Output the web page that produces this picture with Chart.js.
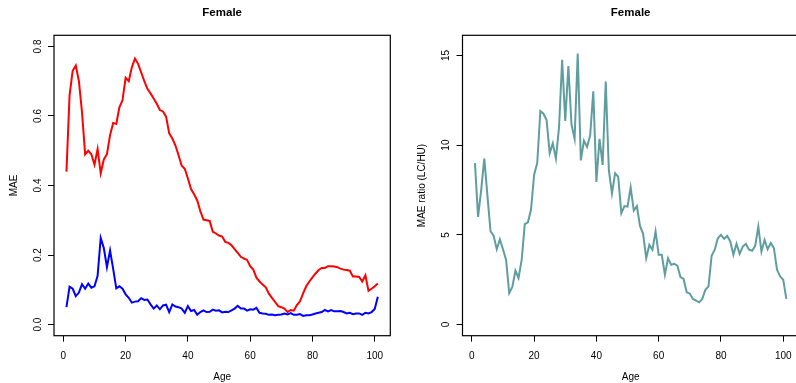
<!DOCTYPE html>
<html>
<head>
<meta charset="utf-8">
<script src="https://cdn.jsdelivr.net/npm/chart.js@4.4.1/dist/chart.umd.min.js"></script>
<style>
html,body{margin:0;padding:0;background:#fff;overflow:hidden;width:796px;height:383px;}
#c1{position:absolute;left:0;top:0;}
#c2{position:absolute;left:398px;top:0;}
</style>
</head>
<body>
<canvas id="c1" width="398" height="383"></canvas>
<canvas id="c2" width="404" height="383"></canvas>
<script>
// ---- data ----
const ages = Array.from({length: 101}, (_, i) => i + 1);
const maeLC = [0.44,0.66,0.73,0.745,0.70,0.61,0.49,0.50,0.49,0.46,
  0.505,0.435,0.475,0.49,0.545,0.58,0.577,0.625,0.645,0.71,
  0.70,0.74,0.765,0.75,0.725,0.70,0.678,0.665,0.65,0.635,
  0.617,0.613,0.598,0.55,0.535,0.515,0.487,0.457,0.448,0.42,
  0.39,0.375,0.357,0.326,0.302,0.30,0.298,0.267,0.262,0.256,
  0.253,0.238,0.235,0.228,0.217,0.206,0.195,0.19,0.186,0.168,
  0.158,0.135,0.124,0.115,0.107,0.089,0.077,0.065,0.053,0.05,
  0.046,0.036,0.042,0.04,0.056,0.067,0.09,0.11,0.124,0.136,
  0.147,0.157,0.163,0.163,0.168,0.168,0.167,0.165,0.161,0.158,
  0.157,0.155,0.138,0.138,0.137,0.124,0.142,0.097,0.103,0.11,0.118];
const maeHU = [0.05,0.109,0.103,0.082,0.092,0.116,0.103,0.118,0.106,0.11,
  0.14,0.249,0.22,0.165,0.213,0.16,0.104,0.11,0.103,0.087,
  0.077,0.063,0.066,0.067,0.076,0.071,0.072,0.058,0.046,0.055,
  0.044,0.055,0.057,0.036,0.058,0.052,0.05,0.046,0.034,0.053,
  0.039,0.042,0.028,0.036,0.041,0.036,0.037,0.043,0.04,0.041,
  0.035,0.037,0.036,0.041,0.046,0.054,0.046,0.046,0.04,0.044,
  0.043,0.048,0.034,0.032,0.031,0.028,0.029,0.027,0.028,0.029,
  0.032,0.029,0.033,0.028,0.028,0.03,0.025,0.027,0.027,0.029,
  0.032,0.034,0.036,0.042,0.038,0.042,0.038,0.038,0.039,0.036,
  0.032,0.034,0.03,0.032,0.032,0.028,0.034,0.032,0.036,0.045,0.08];
const maeRatio = [9.0,6.0,7.5,9.25,7.2,5.2,4.95,4.2,4.75,4.2,
  3.6,1.75,2.1,3.0,2.6,3.6,5.6,5.7,6.4,8.35,
  9.0,11.9,11.75,11.4,9.55,10.1,9.25,11.0,14.75,11.35,
  14.4,11.15,10.35,15.1,9.15,10.25,9.9,10.55,13.0,7.95,
  10.35,8.9,13.55,8.6,7.3,8.43,8.24,6.2,6.6,6.57,
  7.65,6.35,6.6,5.5,5.06,3.7,4.44,4.17,5.19,3.89,
  3.89,2.78,3.7,3.33,3.39,3.28,2.65,2.54,1.8,1.72,
  1.43,1.33,1.24,1.43,1.94,2.13,3.83,4.17,4.81,5.0,
  4.78,4.94,4.63,3.89,4.5,3.94,4.35,4.5,4.17,4.11,
  4.39,5.46,4.07,4.72,4.2,4.54,4.26,3.06,2.69,2.5,1.43];
const xTicks = [0, 20, 40, 60, 80, 100];
const yTicksMAE = [0, 0.2, 0.4, 0.6, 0.8];
const yTicksRatio = [0, 5, 10, 15];
const titleText = 'Female';

// ---- styling / helpers ----
const FONT = '"Liberation Sans", Arial, Helvetica, sans-serif';
const pts = (ys) => ys.map((y, i) => ({x: ages[i], y}));

const framePlugin = {
  id: 'frame',
  afterDraw(chart) {
    const {ctx, chartArea: a} = chart;
    ctx.save();
    ctx.strokeStyle = '#000';
    ctx.lineWidth = 1.2;
    ctx.strokeRect(a.left, a.top, a.right - a.left, a.bottom - a.top);
    ctx.font = 'bold 11.5px ' + FONT;
    ctx.fillStyle = '#000';
    ctx.textAlign = 'center';
    ctx.textBaseline = 'middle';
    ctx.fillText(titleText, (a.left + a.right) / 2, 12.7);
    ctx.restore();
  }
};

function xScale() {
  return {
    type: 'linear', min: -3, max: 105,
    afterBuildTicks: s => { s.ticks = xTicks.map(v => ({value: v})); },
    afterFit: s => { s.height = 47.3; },
    ticks: {font: {family: FONT, size: 10}, color: '#000', padding: 9, maxRotation: 0, autoSkip: false},
    grid: {drawOnChartArea: false, tickLength: 6, color: '#000', lineWidth: 1},
    border: {display: false},
    title: {display: true, text: 'Age', color: '#000', font: {family: FONT, size: 10, lineHeight: 1}, padding: {top: 0, bottom: 1}}
  };
}
function yScale(min, max, ticks, fmt, width, pad, titleText, titlePad) {
  return {
    type: 'linear', min, max,
    afterBuildTicks: s => { s.ticks = ticks.map(v => ({value: v})); },
    afterFit: s => { s.width = width; },
    ticks: {font: {family: FONT, size: 10}, color: '#000', minRotation: 90, maxRotation: 90, crossAlign: 'center', padding: pad, autoSkip: false, callback: fmt},
    grid: {drawOnChartArea: false, tickLength: 6, color: '#000', lineWidth: 1},
    border: {display: false},
    title: {display: true, text: titleText, color: '#000', font: {family: FONT, size: 10, lineHeight: 1}, padding: {top: titlePad, bottom: 0}}
  };
}
const lineDs = (data, color) => ({data: pts(data), borderColor: color, borderWidth: 2, pointRadius: 0, tension: 0, fill: false});

new Chart(document.getElementById('c1'), {
  type: 'line',
  data: {datasets: [lineDs(maeLC, '#ff0000'), lineDs(maeHU, '#0000ff')]},
  options: {
    responsive: false, animation: false,
    layout: {padding: {left: 0, right: 7.7, top: 35.3, bottom: 0}},
    plugins: {legend: {display: false}, tooltip: {enabled: false}},
    scales: {
      x: xScale(),
      y: yScale(-0.032, 0.832, yTicksMAE, v => Number(v).toFixed(1), 54, 2.5, 'MAE', 9)
    }
  },
  plugins: [framePlugin]
});

new Chart(document.getElementById('c2'), {
  type: 'line',
  data: {datasets: [lineDs(maeRatio, '#5f9ea0')]},
  options: {
    responsive: false, animation: false,
    layout: {padding: {left: 0, right: 3.2, top: 35.3, bottom: 0}},
    plugins: {legend: {display: false}, tooltip: {enabled: false}},
    scales: {
      x: xScale(),
      y: yScale(-0.62, 16.12, yTicksRatio, v => String(v), 64.5, 5.0, 'MAE ratio (LC/HU)', 19.3)
    }
  },
  plugins: [framePlugin]
});
</script>
</body>
</html>
